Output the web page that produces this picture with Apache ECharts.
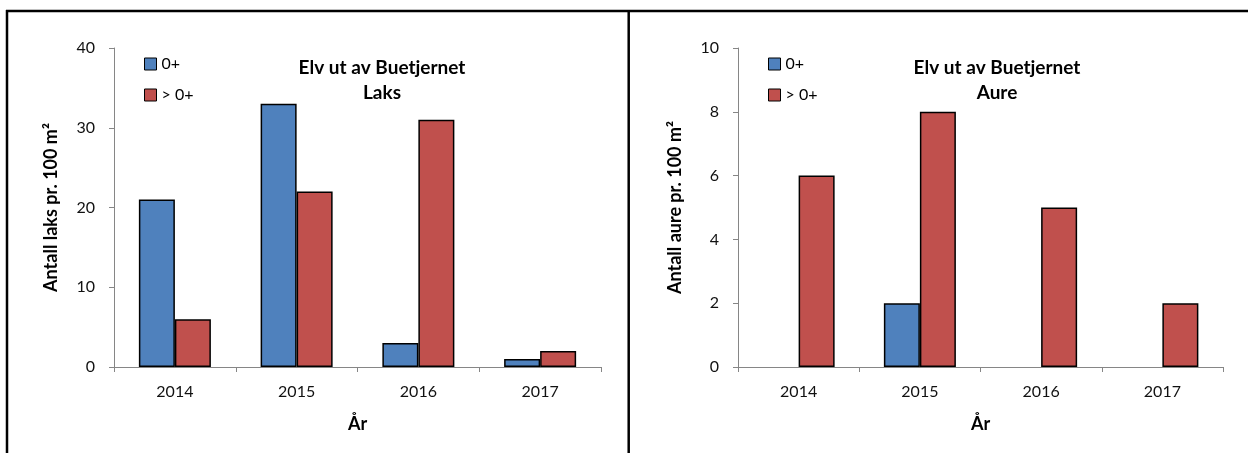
<!DOCTYPE html>
<html>
<head>
<meta charset="utf-8">
<script src="https://cdn.jsdelivr.net/npm/echarts@6/dist/echarts.min.js"></script>
<style>
  html, body { margin: 0; padding: 0; background: #fff; }
  #chart { width: 1248px; height: 453px; }
</style>
</head>
<body>
<div id="chart"></div>
<script>
const years = ["2014", "2015", "2016", "2017"];
const laksYoung = [21, 33, 3, 1];
const laksOld = [6, 22, 31, 2];
const aureYoung = [0, 2, 0, 0];
const aureOld = [6, 8, 5, 2];

const blue = "#4F81BD";
const red = "#C0504D";
const axisGray = "#868686";
const font = "Lato";

const chart = echarts.init(document.getElementById("chart"));

// zero values are not drawn as bars in the original
const noZero = (arr) => arr.map((v) => (v === 0 ? "-" : v));

const xAxisFor = (gridIndex) => ({
  type: "category",
  gridIndex: gridIndex,
  data: years,
  name: "År",
  nameLocation: "middle",
  nameGap: 48,
  nameTextStyle: { fontFamily: font, fontSize: 18, fontWeight: "bold", color: "#000" },
  axisLine: { lineStyle: { color: axisGray, width: 1 } },
  axisTick: { show: true, length: 5, lineStyle: { color: axisGray } },
  axisLabel: { fontFamily: font, fontSize: 16, color: "#111", margin: 17 },
});

const yAxisFor = (gridIndex, max, interval, name) => ({
  type: "value",
  gridIndex: gridIndex,
  min: 0,
  max: max,
  interval: interval,
  name: name,
  nameLocation: "middle",
  nameGap: 54,
  nameTextStyle: { fontFamily: font, fontSize: 18, fontWeight: "bold", color: "#000" },
  axisLine: { show: true, lineStyle: { color: axisGray, width: 1 } },
  axisTick: { show: true, length: 5, lineStyle: { color: axisGray } },
  splitLine: { show: false },
  axisLabel: { fontFamily: font, fontSize: 16, color: "#111", margin: 19 },
});

const barSeries = (name, data, color, idx) => ({
  name: name,
  type: "bar",
  xAxisIndex: idx,
  yAxisIndex: idx,
  data: noZero(data),
  barWidth: 36,
  barGap: "0%",
  itemStyle: { color: color, borderColor: "#000", borderWidth: 1.5 },
});

const legendFor = (left) => ({
  left: left,
  top: 51,
  orient: "vertical",
  data: ["0+", "> 0+"],
  icon: "rect",
  itemWidth: 12,
  itemHeight: 12,
  itemGap: 15,
  selectedMode: false,
  itemStyle: { borderColor: "#000", borderWidth: 1 },
  textStyle: { fontFamily: font, fontSize: 16, color: "#000" },
});

const titleFor = (left, sub) => ({
  text: "Elv ut av Buetjernet\n" + sub,
  left: left,
  top: 50,
  textAlign: "center",
  textStyle: { fontFamily: font, fontSize: 19, fontWeight: "bold", color: "#000", lineHeight: 25 },
});

const option = {
  animation: false,
  title: [titleFor(377, "Laks"), titleFor(992, "Aure")],
  legend: [legendFor(139), legendFor(763)],
  grid: [
    { left: 114, top: 48, width: 487, height: 319 },
    { left: 738, top: 48, width: 485, height: 319 },
  ],
  xAxis: [xAxisFor(0), xAxisFor(1)],
  yAxis: [
    yAxisFor(0, 40, 10, "Antall laks pr. 100 m²"),
    yAxisFor(1, 10, 2, "Antall aure pr. 100 m²"),
  ],
  series: [
    barSeries("0+", laksYoung, blue, 0),
    barSeries("> 0+", laksOld, red, 0),
    barSeries("0+", aureYoung, blue, 1),
    barSeries("> 0+", aureOld, red, 1),
  ],
  graphic: [
    { type: "line", shape: { x1: 6, y1: 11, x2: 1248, y2: 11 }, style: { stroke: "#000", lineWidth: 2.5 } },
    { type: "line", shape: { x1: 7, y1: 10, x2: 7, y2: 453 }, style: { stroke: "#000", lineWidth: 2.5 } },
    { type: "line", shape: { x1: 628.7, y1: 10, x2: 628.7, y2: 453 }, style: { stroke: "#000", lineWidth: 2.5 } },
  ],
};

chart.setOption(option);
</script>
</body>
</html>
